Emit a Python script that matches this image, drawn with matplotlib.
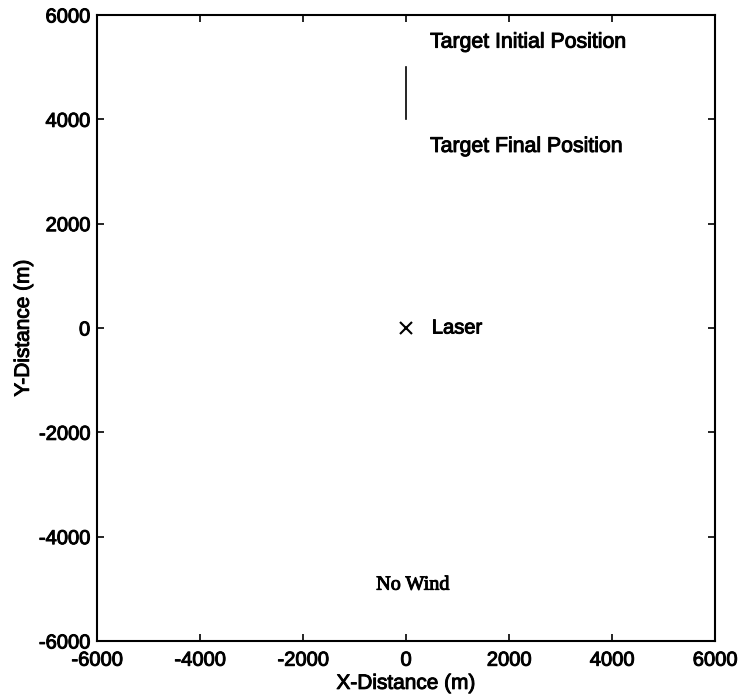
import matplotlib
matplotlib.use("Agg")
import matplotlib.pyplot as plt
import matplotlib.patheffects as pe

plt.rcParams['font.family'] = ['Liberation Sans', 'DejaVu Sans']
plt.rcParams['axes.unicode_minus'] = False

# Data
target_x = [0, 0]
target_y = [5000, 4000]
laser_x = [0]
laser_y = [0]
ticks = [-6000, -4000, -2000, 0, 2000, 4000, 6000]

thick = [pe.withStroke(linewidth=0.7, foreground='black')]

fig = plt.figure(figsize=(7.41, 6.94), dpi=100)
ax = fig.add_axes([0.131, 0.0764, 0.834, 0.902])

ax.plot(target_x, target_y, color='black', linewidth=1.2)
ax.plot(laser_x, laser_y, linestyle='none', marker='x', color='black',
        markersize=8, markeredgewidth=1.5)

ax.text(466, 5480, 'Target Initial Position', fontsize=15.3, va='center', ha='left',
        path_effects=thick)
ax.text(466, 3480, 'Target Final Position', fontsize=15.3, va='center', ha='left',
        path_effects=thick)
ax.text(500, 0, 'Laser', fontsize=14.5, va='center', ha='left', path_effects=thick)
ax.text(-580, -4930, 'No Wind', fontsize=14.5, va='center', ha='left',
        family=['Liberation Serif', 'DejaVu Serif'], path_effects=thick)

ax.set_xlim(-6000, 6000)
ax.set_ylim(-6000, 6000)
ax.set_xticks(ticks)
ax.set_yticks(ticks)
ax.tick_params(direction='in', top=True, right=True, length=5, width=1.2,
               labelsize=14.5)
ax.tick_params(axis='x', pad=7)
ax.tick_params(axis='y', pad=5)
for lab in ax.get_xticklabels() + ax.get_yticklabels():
    lab.set_path_effects(thick)
for s in ax.spines.values():
    s.set_linewidth(1.5)
xl = ax.set_xlabel('X-Distance (m)', fontsize=15, labelpad=3)
yl = ax.set_ylabel('Y-Distance (m)', fontsize=15)
xl.set_path_effects(thick)
yl.set_path_effects(thick)
ax.yaxis.set_label_coords(-0.104, 0.5)

fig.savefig('out.png', dpi=100)
